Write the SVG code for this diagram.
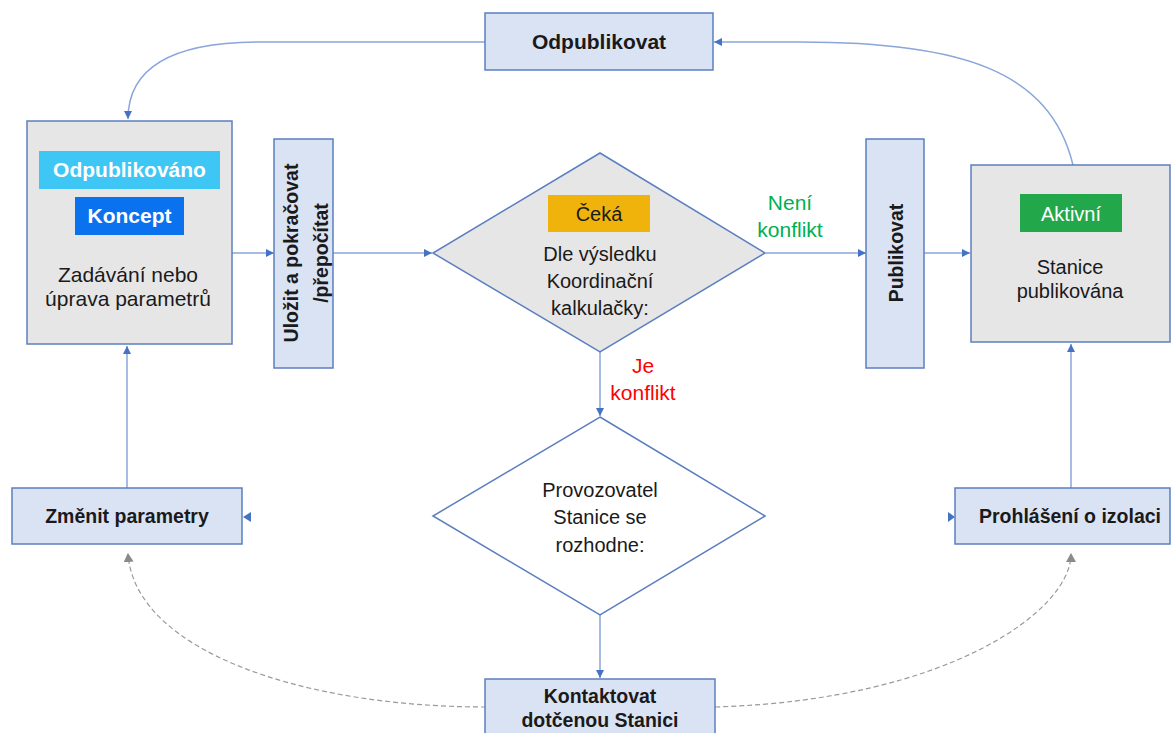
<svg xmlns="http://www.w3.org/2000/svg" width="1172" height="733" viewBox="0 0 1172 733">
<style>
.bg{fill:#ffffff}
.box{fill:#dae3f3;stroke:#5b7fc0;stroke-width:1.5}
.big{fill:#e7e6e6;stroke:#5b7fc0;stroke-width:1.5}
.dia{stroke:#5b7fc0;stroke-width:1.5}
.con{fill:none;stroke:#8aa6da;stroke-width:1.5}
.dash{fill:none;stroke:#9a9a9a;stroke-width:1.2;stroke-dasharray:5 3}
.b{font-family:"Liberation Sans",Arial,sans-serif;font-weight:bold;fill:#1a1a1a;text-anchor:middle}
.r{font-family:"Liberation Sans",Arial,sans-serif;fill:#1a1a1a;text-anchor:middle}
</style>
<defs>
<marker id="ah" markerUnits="userSpaceOnUse" markerWidth="10" markerHeight="10" refX="8" refY="4" orient="auto">
<path d="M0,0 L8,4 L0,8 z" fill="#4472c4"/>
</marker>
<marker id="ahg" markerUnits="userSpaceOnUse" markerWidth="12" markerHeight="12" refX="8" refY="5" orient="auto">
<path d="M0,0 L9,5 L0,10 z" fill="#8a8a8a"/>
</marker>
</defs>
<rect class="bg" x="0" y="0" width="1172" height="733"/>

<g id="connectors">
<path class="con" d="M485,42 L260,42 C165,42 128,72 128,119" marker-end="url(#ah)"/>
<path class="con" d="M1073,165 C1050,70 960,42 800,42 L714,42" marker-end="url(#ah)"/>
<path class="con" d="M232,253 L274,253" marker-end="url(#ah)"/>
<path class="con" d="M333,253 L432,253" marker-end="url(#ah)"/>
<path class="con" d="M766,253 L866,253" marker-end="url(#ah)"/>
<path class="con" d="M924,253 L970,253" marker-end="url(#ah)"/>
<path class="con" d="M600,352 L600,416" marker-end="url(#ah)"/>
<path class="con" d="M600,615 L600,678" marker-end="url(#ah)"/>
<path class="con" d="M127,488 L127,346" marker-end="url(#ah)"/>
<path class="con" d="M1071,488 L1071,344" marker-end="url(#ah)"/>
<path d="M251,512 L243,517 L251,522 z" fill="#4472c4"/>
<path d="M948,512 L955,517 L948,522 z" fill="#4472c4"/>
<path class="dash" d="M486,707 C300,707 135,650 128,554" marker-end="url(#ahg)"/>
<path class="dash" d="M715,707 C950,700 1071,610 1071,554" marker-end="url(#ahg)"/>
<text class="r" x="790" y="210" font-size="21" style="fill:#00b050">Není</text>
<text class="r" x="790" y="237" font-size="21" style="fill:#00b050">konflikt</text>
<text class="r" x="643" y="373" font-size="21" style="fill:#ff0000">Je</text>
<text class="r" x="643" y="400" font-size="21" style="fill:#ff0000">konflikt</text>
</g>

<g id="odpublikovat">
<rect class="box" x="485" y="13" width="228" height="57"/>
<text class="b" x="599" y="49" font-size="21">Odpublikovat</text>
</g>

<g id="koncept">
<rect class="big" x="27" y="121" width="205" height="223"/>
<rect x="39" y="151" width="181" height="38" fill="#3ec6f5"/>
<text class="b" x="129.5" y="177" font-size="21" style="fill:#ffffff">Odpublikováno</text>
<rect x="75" y="197" width="109" height="38" fill="#0a72ee"/>
<text class="b" x="129.5" y="223" font-size="21" style="fill:#ffffff">Koncept</text>
<text class="r" x="128" y="282" font-size="21">Zadávání nebo</text>
<text class="r" x="128" y="306" font-size="21">úprava parametrů</text>
</g>

<g id="ulozit">
<rect class="box" x="274" y="139" width="59" height="229"/>
<text class="b" transform="translate(298,253) rotate(-90)" font-size="19.5">Uložit a pokračovat</text>
<text class="b" transform="translate(328,253) rotate(-90)" font-size="19.5">/přepočítat</text>
</g>

<g id="ceka">
<path class="dia" d="M600,153 L765,253 L600,352 L433,253 z" fill="#e7e6e6"/>
<rect x="548" y="195" width="102" height="37" fill="#f0b30b"/>
<text class="r" x="599" y="221" font-size="20">Čeká</text>
<text class="r" x="600" y="261" font-size="20">Dle výsledku</text>
<text class="r" x="600" y="288" font-size="20">Koordinační</text>
<text class="r" x="600" y="315" font-size="20">kalkulačky:</text>
</g>

<g id="publikovat">
<rect class="box" x="866" y="139" width="58" height="229"/>
<text class="b" transform="translate(903,253) rotate(-90)" font-size="19.5">Publikovat</text>
</g>

<g id="aktivni">
<rect class="big" x="971" y="165" width="199" height="177"/>
<rect x="1020" y="194" width="102" height="38" fill="#22a84a"/>
<text class="r" x="1071" y="221" font-size="20" style="fill:#ffffff">Aktivní</text>
<text class="r" x="1070" y="274" font-size="20">Stanice</text>
<text class="r" x="1070" y="298" font-size="20">publikována</text>
</g>

<g id="provozovatel">
<path class="dia" d="M600,417 L765,516 L600,615 L433,516 z" fill="#ffffff"/>
<text class="r" x="600" y="497" font-size="20">Provozovatel</text>
<text class="r" x="600" y="524" font-size="20">Stanice se</text>
<text class="r" x="600" y="552" font-size="20">rozhodne:</text>
</g>

<g id="zmenit">
<rect class="box" x="12" y="488" width="230" height="56"/>
<text class="b" x="127" y="523" font-size="19.5">Změnit parametry</text>
</g>

<g id="prohlaseni">
<rect class="box" x="955" y="488" width="215" height="56"/>
<text class="b" x="1070" y="523" font-size="19.5">Prohlášení o izolaci</text>
</g>

<g id="kontaktovat">
<rect class="box" x="485" y="679" width="230" height="62"/>
<text class="b" x="600" y="703" font-size="19.5">Kontaktovat</text>
<text class="b" x="600" y="727" font-size="19.5">dotčenou Stanici</text>
</g>
</svg>
